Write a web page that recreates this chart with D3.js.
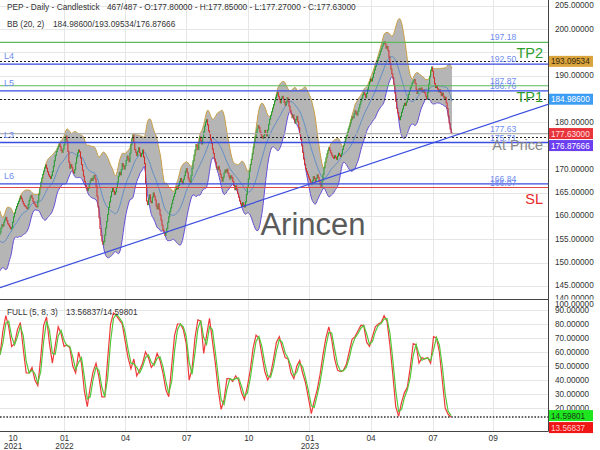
<!DOCTYPE html>
<html><head><meta charset="utf-8">
<script src="https://cdn.jsdelivr.net/npm/d3@7"></script>
<style>body{margin:0;background:#fff}svg{display:block;font-family:"Liberation Sans",Arial,sans-serif}</style>
</head><body><svg id="c" width="600" height="450"></svg>
<script>
// ---------- data ----------
const symbolInfo = ["PEP", "Daily", "Candlestick"];
const barInfo = [467, 487];
const lastOHLC = [177.80, 177.85, 177.27, 177.63];
const bbLast = [184.98600, 193.09534, 176.87666];   // middle / upper / lower
const stochLast = [13.56837, 14.59801];              // %K / %D
// closes before the first drawn bar (Bollinger warm-up)
const preCloses = [162.0,161.0,160.0,159.0,157.0,156.0,154.0,153.0,151.0,150.0,151.0,152.0,151.0,150.5,152.0,154.0,155.5,156.0,157.0,156.0];
// daily closes, bar 0 .. 466
const closes = [
156.5,157.4,158.1,157.8,158.7,159.3,159.7,159.0,158.3,158.0,
157.6,157.2,157.5,158.6,159.8,160.6,161.4,162.0,162.6,163.1,
163.6,164.2,163.7,163.1,162.6,162.2,162.0,161.7,161.5,162.4,
163.3,164.0,164.4,163.8,163.1,162.7,162.4,162.0,161.9,163.2,
164.6,166.0,167.2,168.1,168.9,169.6,170.3,170.9,170.2,169.4,
168.8,168.4,168.0,168.6,169.5,170.6,171.8,172.9,173.8,174.4,
174.9,175.4,174.8,174.0,173.6,174.3,175.2,176.4,177.1,175.9,
173.8,171.5,170.2,171.0,170.4,169.6,169.1,169.9,171.3,172.6,
173.5,174.1,173.7,172.4,171.0,169.8,168.5,167.4,166.5,165.9,
165.4,165.9,166.8,167.5,168.0,167.6,168.3,168.7,167.9,166.4,
164.2,161.9,159.6,157.3,155.8,154.6,153.9,154.5,155.9,157.4,
158.8,160.3,161.8,163.0,164.1,165.2,165.9,165.3,164.6,165.1,
166.0,167.2,168.5,169.3,168.8,169.9,171.2,170.6,170.0,170.8,
171.9,172.8,172.2,171.6,173.4,175.2,176.5,177.3,175.8,174.2,
173.6,172.9,173.8,174.6,173.5,172.7,173.3,174.1,172.6,171.2,
167.0,163.2,162.4,163.6,164.5,163.1,162.8,164.0,164.9,164.2,
163.4,162.1,161.5,162.6,161.4,160.2,159.1,158.0,157.0,156.4,
155.8,156.4,157.3,158.6,159.8,160.9,161.7,162.6,163.4,164.1,
164.8,165.6,166.2,165.8,166.5,167.3,168.0,167.4,166.9,167.8,
168.6,169.5,170.1,169.2,168.1,167.5,167.2,168.6,170.2,171.8,
173.0,174.1,175.3,175.0,174.2,175.6,176.9,176.1,175.4,176.8,
178.0,179.2,180.1,180.6,179.5,178.2,177.5,176.4,175.5,174.3,
173.4,172.2,171.5,170.4,169.9,170.6,169.8,168.9,168.2,167.4,
168.3,169.2,169.8,169.4,170.0,169.1,168.5,167.9,168.6,168.2,
167.4,166.5,165.6,166.4,165.7,164.8,164.0,163.2,162.6,162.0,
162.8,162.3,161.9,163.0,164.6,166.1,167.9,169.6,171.0,172.1,
173.3,174.6,175.8,176.9,177.8,178.6,179.3,178.9,178.0,177.4,
177.0,176.6,177.2,178.3,177.6,177.1,178.4,179.6,180.7,181.5,
182.3,183.1,183.8,184.6,185.3,185.9,186.4,185.6,184.9,184.2,
185.2,185.6,185.0,184.3,183.7,184.4,185.3,184.6,183.5,182.6,
181.8,181.0,181.6,180.7,179.9,180.6,181.3,180.2,178.9,177.6,
176.4,175.1,173.6,172.2,171.0,170.1,169.5,168.9,168.3,167.8,
167.2,166.8,167.5,168.4,168.0,167.3,168.1,168.8,168.2,167.4,
166.7,166.2,167.4,168.9,170.3,171.5,172.4,173.3,174.0,174.6,
174.1,173.5,173.0,172.6,172.3,172.9,172.5,172.1,172.8,173.4,
173.0,172.7,173.3,174.2,175.0,175.9,176.5,177.2,177.9,178.6,
179.2,179.9,180.6,181.2,181.0,181.8,182.5,182.0,181.6,182.4,
183.1,183.9,184.6,185.2,185.9,186.4,186.0,185.3,186.2,187.1,
188.0,188.7,189.3,188.9,189.6,190.5,191.3,192.0,192.6,193.3,
193.9,194.5,195.2,195.8,196.4,196.9,197.3,196.8,195.9,196.3,
195.4,194.0,192.6,191.5,190.4,189.6,188.1,186.3,184.5,183.0,
182.1,181.2,180.6,181.3,182.2,182.9,183.6,184.1,183.7,184.4,
185.2,186.0,186.8,187.4,188.0,188.5,188.9,189.2,188.4,187.1,
186.2,186.8,187.3,186.9,187.4,187.0,186.5,186.9,186.3,185.6,
185.0,186.4,188.2,189.8,191.2,191.9,191.0,189.6,188.3,187.5,
187.9,187.2,186.6,187.0,186.4,185.8,186.3,185.6,185.0,185.4,
184.2,183.0,181.4,179.9,178.6,177.8,177.63];
// Full stochastic %K read every 3 bars (bar 0,3,6,...)
const stochStep = 3;
const stochK = [58,75,86,78,64,66,76,81,62,45, 45,49,40,36,56,79,85,66,52,65,
78,73,64,65,63,50,45,60,52,32, 21,35,46,52,42,28,28,55,80,88,
86,83,80,68,56,48,55,43,47,52, 60,56,49,52,59,54,45,33,28,50,
72,80,80,76,66,40,48,70,83,82, 59,72,84,68,52,33,19,26,41,41,
39,43,40,31,26,35,47,63,72,70, 58,46,40,44,55,67,71,63,56,55,
45,41,50,54,45,38,27,16,25,33, 44,58,70,78,69,55,47,46,47,51,
60,69,71,75,79,79,67,64,71,78, 80,81,86,82,65,44,21,14,24,31,
35,49,66,65,52,56,55,56,52,71, 70,60,40,20,15.5,13.6];
// levels
const levelValues = [197.18, 192.50, 187.87, 186.76, 177.63, 175.71, 166.84, 166.07];
const levelNames  = ["TP2", "L4", "TP1", "L5", "At Price", "L3", "L6", "SL"];
const levelKinds  = ["target", "level", "target", "level", "entry", "level", "level", "stop"];
// trend line (bar, price)
const trendBars = [0, 565];
const trendPrices = [144.6, 183.9];
// ticks
const priceTicks = [140,145,150,155,160,165,170,175,180,185,190,195,200,205];
const stochTicks = [20,30,40,50,60,70,80,90,100];
const xTickBars = [13, 66, 129, 192, 256, 319, 382, 446, 508];
const xTickMonths = ["10","01","04","07","10","01","04","07","09"];
const xTickYears = ["2021","2022","","","","2023","","",""];

// ---------- scales ----------
const svg = d3.select("#c");
const R = 548;
const x = d3.scaleLinear().domain([0, 565]).range([0, R]);
const yP = d3.scaleLinear().domain([140, 205]).range([309.2, 5.8]);
const yS = d3.scaleLinear().domain([0, 100]).range([436, 296]);
const f5 = d3.format(".5f");

const defs = svg.append("defs");
defs.append("clipPath").attr("id","ct").append("rect").attr("x",0).attr("y",0).attr("width",R).attr("height",299);
defs.append("clipPath").attr("id","cb").append("rect").attr("x",0).attr("y",300).attr("width",R).attr("height",131);
defs.append("clipPath").attr("id","ca").append("rect").attr("x",0).attr("y",0).attr("width",60).attr("height",299.5);

// ---------- grid ----------
const grid = svg.append("g").attr("stroke","#e6e6e6").attr("stroke-width",1);
grid.selectAll("line.hp").data(priceTicks).join("line").attr("class","hp")
  .attr("x1",0).attr("x2",R).attr("y1",d=>Math.round(yP(d))+0.5).attr("y2",d=>Math.round(yP(d))+0.5)
  .attr("clip-path","url(#ct)");
grid.selectAll("line.hs").data(stochTicks.filter(d=>d<100)).join("line").attr("class","hs")
  .attr("x1",0).attr("x2",R).attr("y1",d=>Math.round(yS(d))+0.5).attr("y2",d=>Math.round(yS(d))+0.5);
grid.selectAll("line.v").data(xTickBars.slice(1)).join("line").attr("class","v")
  .attr("x1",d=>Math.round(x(d))+0.5).attr("x2",d=>Math.round(x(d))+0.5).attr("y1",0).attr("y2",431);

// ---------- Bollinger ----------
const all = preCloses.concat(closes);
const bb = closes.map((c,i)=>{
  const j = i + preCloses.length;
  const w = all.slice(j-19, j+1);
  const m = d3.mean(w);
  const sd = Math.sqrt(d3.mean(w, v=>(v-m)*(v-m)));
  return {i, m, u: m+2*sd, l: m-2*sd};
});
const gTop = svg.append("g").attr("clip-path","url(#ct)");
gTop.append("path").datum(bb)
  .attr("d", d3.area().x(d=>x(d.i)).y0(d=>yP(d.l)).y1(d=>yP(d.u)))
  .attr("fill","#b5b5b5");
gTop.append("path").datum(bb).attr("d", d3.line().x(d=>x(d.i)).y(d=>yP(d.u)))
  .attr("fill","none").attr("stroke","#c9a045").attr("stroke-width",1);
gTop.append("path").datum(bb).attr("d", d3.line().x(d=>x(d.i)).y(d=>yP(d.l)))
  .attr("fill","none").attr("stroke","#6650d8").attr("stroke-width",1);
gTop.append("path").datum(bb).attr("d", d3.line().x(d=>x(d.i)).y(d=>yP(d.m)))
  .attr("fill","none").attr("stroke","#4d84c8").attr("stroke-width",0.8);

// ---------- candles (body from previous close to close) ----------
const candles = closes.map((c,i)=>({i, o: i===0 ? preCloses[preCloses.length-1] : closes[i-1], c}));
gTop.selectAll("rect.cd").data(candles).join("rect").attr("class","cd")
  .attr("x", d=>x(d.i)-0.5).attr("width",1)
  .attr("y", d=>yP(Math.max(d.o,d.c)) - 0.5)
  .attr("height", d=>Math.max(1.2, Math.abs(yP(d.o)-yP(d.c)) + 1))
  .attr("fill", d=>d.c>=d.o ? "#1f9a2a" : "#d42a2a");

// ---------- levels ----------
const kindColor = {target:"#5cb85c", level:"#3a4de0", entry:"#b0b0b0", stop:"#e04848"};
const bigColor = {target:"#2e9e2e", entry:"#8a8a8a", stop:"#e82a2a"};
const lv = levelValues.map((v,i)=>({v, name:levelNames[i], kind:levelKinds[i]}));
gTop.selectAll("line.lv").data(lv).join("line").attr("class","lv")
  .attr("x1",0).attr("x2",R).attr("y1",d=>yP(d.v)).attr("y2",d=>yP(d.v))
  .attr("stroke",d=>kindColor[d.kind]).attr("stroke-width",d=>d.kind==="level"?1.3:1.2);
gTop.selectAll("line.bbv").data(bbLast).join("line").attr("class","bbv")
  .attr("x1",0).attr("x2",R).attr("y1",d=>Math.round(yP(d))+0.5).attr("y2",d=>Math.round(yP(d))+0.5)
  .attr("stroke","#222").attr("stroke-width",1).attr("stroke-dasharray","2,2");
gTop.append("line")
  .attr("x1",x(trendBars[0])).attr("y1",yP(trendPrices[0]))
  .attr("x2",x(trendBars[1])).attr("y2",yP(trendPrices[1]))
  .attr("stroke","#3a4de0").attr("stroke-width",1.2);
gTop.selectAll("text.lnum").data(lv).join("text").attr("class","lnum")
  .attr("x",490).attr("y",d=>yP(d.v)-2).attr("font-size",8.6).attr("fill","#6f8cf0")
  .text(d=>d.v.toFixed(2));
gTop.selectAll("text.lname").data(lv.filter(d=>d.kind==="level")).join("text").attr("class","lname")
  .attr("x",4).attr("y",d=>yP(d.v)-5).attr("font-size",9).attr("fill","#6f8cf0").text(d=>d.name);
gTop.selectAll("text.big").data(lv.filter(d=>d.kind!=="level")).join("text").attr("class","big")
  .attr("x",543).attr("y",d=>yP(d.v)+16).attr("text-anchor","end").attr("font-size",14.5)
  .attr("fill",d=>bigColor[d.kind]).text(d=>d.name);
gTop.append("text").attr("x",313).attr("y",235).attr("text-anchor","middle")
  .attr("font-size",31).attr("fill","#5a5a5a").text("Arincen");

// ---------- stochastic ----------
const gBot = svg.append("g").attr("clip-path","url(#cb)");
const kPts = stochK.map((v,k)=>({b:k*stochStep, v}));
const dPts = stochK.map((v,k)=>({b:k*stochStep, v: k===0 ? v : d3.mean([stochK[k-1], v])}));
const sl = d3.line().x(d=>x(d.b)).y(d=>yS(d.v));
gBot.append("path").datum(kPts).attr("d",sl).attr("fill","none").attr("stroke","#f03a3a").attr("stroke-width",1.2);
gBot.append("path").datum(dPts).attr("d",sl).attr("fill","none").attr("stroke","#52c83a").attr("stroke-width",1.2);
gBot.append("line").attr("x1",0).attr("x2",R).attr("y1",yS(stochLast[0])).attr("y2",yS(stochLast[0]))
  .attr("stroke","#333").attr("stroke-width",1.6).attr("stroke-dasharray","1.6,1.6");

// ---------- frames ----------
const fr = svg.append("g").attr("stroke","#444").attr("stroke-width",1);
fr.append("line").attr("x1",0).attr("x2",R).attr("y1",299.5).attr("y2",299.5);
fr.append("line").attr("x1",0).attr("x2",R+0.5).attr("y1",431.5).attr("y2",431.5);
fr.append("line").attr("x1",R+0.5).attr("x2",R+0.5).attr("y1",0).attr("y2",431.5);

// ---------- badges (positions) ----------
function stack(list, minGap){
  list.sort((a,b)=>a.y-b.y);
  for (let i=1;i<list.length;i++) if (list[i].y < list[i-1].y + minGap) list[i].y = list[i-1].y + minGap;
  return list;
}
const topBadges = stack([
  {v:bbLast[1], y:yP(bbLast[1]), bg:"#d9a43c", fg:"#3a2a10"},
  {v:bbLast[0], y:yP(bbLast[0]), bg:"#3d9df5", fg:"#ffffff"},
  {v:lastOHLC[3], y:yP(lastOHLC[3]), bg:"#e8333a", fg:"#ffe0e0"},
  {v:bbLast[2], y:yP(bbLast[2]), bg:"#6b3ff0", fg:"#ffffff"}
], 12);
const botBadges = stack([
  {v:stochLast[1], y:yS(stochLast[1]), bg:"#1ee61e", fg:"#1a3a1a"},
  {v:stochLast[0], y:yS(stochLast[0]), bg:"#f01616", fg:"#ffd0d0"}
], 12);

// ---------- axes ----------
const hidden = (yy, list) => list.some(b => Math.abs(b.y - yy) < 9);
const ax1 = svg.append("g").attr("transform",`translate(${R},0)`).attr("clip-path","url(#ca)")
  .call(d3.axisRight(yP).tickValues(priceTicks).tickSize(0).tickPadding(7).tickFormat(f5));
ax1.select(".domain").remove();
ax1.selectAll(".tick").attr("transform", d=>`translate(0,${Math.min(298, yP(d))})`)
  .filter(d=>hidden(yP(d), topBadges)).remove();
const ax2 = svg.append("g").attr("transform",`translate(${R},0)`)
  .call(d3.axisRight(yS).tickValues(stochTicks).tickSize(0).tickPadding(7).tickFormat(f5));
ax2.select(".domain").remove();
ax2.selectAll(".tick").attr("transform", d=>`translate(0,${Math.max(304, yS(d))})`);
[ax1, ax2].forEach(a=>a.selectAll("text").attr("font-size",8.2).attr("fill","#333")
  .attr("font-family",'"Liberation Sans",Arial,sans-serif'));

const ax3 = svg.append("g").attr("transform","translate(0,431)")
  .call(d3.axisBottom(x).tickValues(xTickBars).tickSize(0).tickPadding(4).tickFormat((d,i)=>xTickMonths[i]));
ax3.select(".domain").remove();
ax3.selectAll(".tick text").attr("font-size",8.3).attr("fill","#333")
  .attr("font-family",'"Liberation Sans",Arial,sans-serif')
  .each(function(d,i){ if (xTickYears[i]) d3.select(this).append("tspan").attr("x",0).attr("dy","1.0em").text(xTickYears[i]); });

// ---------- badges (draw) ----------
const gb = svg.append("g");
topBadges.concat(botBadges).forEach(b=>{
  gb.append("rect").attr("x",549).attr("y",b.y-5.5).attr("width",44).attr("height",11).attr("fill",b.bg);
  gb.append("text").attr("x",551).attr("y",b.y+3).attr("font-size",8.2).attr("fill",b.fg).text(f5(b.v));
});

// ---------- headers ----------
const hd = svg.append("g").attr("font-size",8.3).attr("fill","#333");
hd.append("text").attr("x",7).attr("y",10).text(symbolInfo.join(" - "));
hd.append("text").attr("x",107).attr("y",10)
  .text(`${barInfo[0]}/${barInfo[1]} - O:${f5(lastOHLC[0])} - H:${f5(lastOHLC[1])} - L:${f5(lastOHLC[2])} - C:${f5(lastOHLC[3])}`);
hd.append("text").attr("x",7).attr("y",27).text("BB (20, 2)");
hd.append("text").attr("x",53).attr("y",27).text(bbLast.map(f5).join("/"));
hd.append("text").attr("x",7).attr("y",315).text("FULL (5, 8, 3)");
hd.append("text").attr("x",66).attr("y",315).text(stochLast.map(f5).join("/"));
</script></body></html>
